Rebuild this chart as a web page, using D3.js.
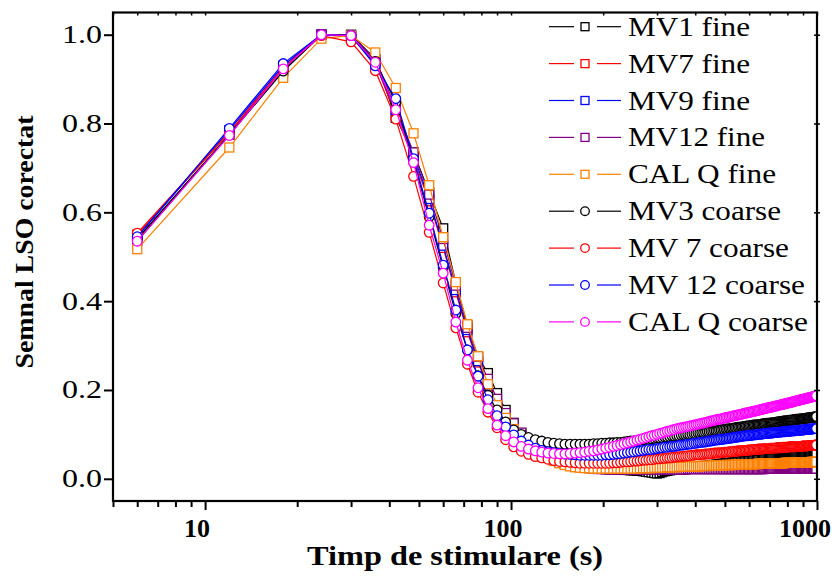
<!DOCTYPE html>
<html><head><meta charset="utf-8">
<script src="https://cdn.jsdelivr.net/npm/d3@7"></script>
<style>html,body{margin:0;padding:0;background:#fff;}svg{display:block;}
svg text{font-family:"Liberation Serif","Times New Roman",Times,serif;}</style>
</head><body>
<svg id="chart" width="832" height="578"></svg>
<script>
// ---------- DATA ----------
const times = [6,12,18,24,30,36,42,48,54,60,66,72,78,84,90,96,102,
108,114,120,126,132,138,144,150,156,162,
168,174,180,186,192,198,204,210,216,222,
228,234,240,246,252,258,264,270,276,282,
288,294,300,306,312,318,324,330,336,342,
348,354,360,366,372,378,384,390,396,402,
408,414,420,426,432,438,444,450,456,462,
468,474,480,486,492,498,504,510,516,522,
528,534,540,546,552,558,564,570,576,582,
588,594,600,606,612,618,624,630,636,642,
648,654,660,666,672,678,684,690,696,702,
708,714,720,726,732,738,744,750,756,762,
768,774,780,786,792,798,804,810,816,822,
828,834,840,846,852,858,864,870,876,882,
888,894,900,906,912,918,924,930,936,942,
948,954,960,966,972,978,984,990,996];

const mv1Fine = [.535,.775,.918,1.0,1.0,.945,.813,.735,.645,.564,.44,.345,.274,.238,.193,.155,.126,
.103,.087,.073,.062,.053,.046,.040,.035,.032,.029,
.027,.026,.025,.024,.024,.023,.023,.022,.022,.021,
.021,.020,.020,.019,.019,.018,.018,.017,.016,.015,
.014,.013,.012,.013,.015,.017,.018,.019,.020,.021,
.022,.022,.023,.023,.024,.024,.025,.025,.026,.026,
.027,.027,.028,.028,.029,.029,.030,.030,.031,.031,
.032,.032,.033,.033,.034,.034,.035,.035,.035,.036,
.036,.037,.037,.037,.038,.038,.038,.039,.039,.039,
.040,.040,.040,.041,.041,.041,.042,.042,.042,.043,
.043,.043,.043,.044,.044,.044,.045,.045,.045,.045,
.046,.046,.046,.046,.047,.047,.047,.047,.048,.048,
.048,.048,.049,.049,.049,.049,.050,.050,.050,.050,
.050,.051,.051,.051,.051,.051,.052,.052,.052,.052,
.052,.053,.053,.053,.053,.053,.053,.054,.054,.054,
.054,.054,.054,.055,.055,.055,.055,.055,.055];

const mv7Fine = [.550,.780,.925,1.0,.995,.935,.820,.720,.625,.520,.420,.330,.262,.208,.168,.138,.115,
.096,.080,.067,.057,.049,.042,.037,.033,.030,.028,
.027,.026,.025,.025,.024,.024,.024,.023,.023,.023,
.023,.023,.023,.023,.023,.023,.023,.023,.023,.023,
.023,.023,.023,.024,.024,.024,.024,.024,.024,.024,
.024,.024,.024,.024,.024,.025,.025,.025,.025,.025,
.025,.025,.025,.025,.025,.025,.025,.025,.025,.025,
.025,.025,.026,.026,.026,.026,.026,.026,.026,.026,
.026,.026,.026,.026,.026,.026,.026,.026,.026,.026,
.026,.026,.027,.027,.027,.027,.027,.027,.027,.027,
.027,.027,.027,.027,.027,.027,.027,.027,.027,.027,
.027,.027,.027,.027,.027,.028,.028,.028,.028,.028,
.028,.028,.028,.028,.028,.028,.028,.028,.028,.028,
.028,.028,.028,.028,.028,.028,.028,.028,.028,.028,
.028,.028,.028,.029,.029,.029,.029,.029,.029,.029,
.029,.029,.029,.029,.029,.029,.029,.029,.029];

const mv9Fine = [.545,.785,.930,1.0,.998,.935,.830,.728,.630,.525,.425,.335,.265,.210,.170,.140,.117,
.098,.082,.069,.058,.050,.043,.038,.034,.031,.029,
.028,.027,.026,.026,.025,.025,.025,.025,.025,.025,
.025,.025,.025,.025,.025,.025,.025,.025,.025,.025,
.025,.025,.025,.026,.026,.026,.026,.026,.026,.026,
.026,.026,.026,.026,.026,.026,.026,.027,.027,.027,
.027,.027,.027,.027,.027,.027,.027,.027,.027,.027,
.027,.027,.028,.028,.028,.028,.028,.028,.028,.028,
.028,.028,.028,.028,.028,.028,.028,.029,.029,.029,
.029,.029,.029,.029,.029,.029,.029,.029,.029,.029,
.029,.029,.029,.029,.029,.029,.029,.029,.030,.030,
.030,.030,.030,.030,.030,.030,.030,.030,.030,.030,
.030,.030,.030,.030,.030,.030,.030,.030,.030,.030,
.030,.030,.030,.030,.030,.031,.031,.031,.031,.031,
.031,.031,.031,.031,.031,.031,.031,.031,.031,.031,
.031,.031,.031,.031,.031,.031,.031,.031,.031];

const mv12Fine = [.540,.775,.925,1.0,.998,.945,.835,.735,.640,.540,.435,.340,.275,.225,.180,.148,.125,
.104,.087,.073,.062,.053,.046,.040,.035,.031,.028,
.026,.025,.024,.023,.022,.022,.021,.021,.021,.021,
.021,.021,.021,.021,.021,.021,.021,.021,.021,.021,
.021,.021,.021,.021,.021,.021,.021,.021,.021,.021,
.021,.021,.021,.021,.021,.022,.022,.022,.022,.022,
.022,.022,.022,.022,.022,.022,.022,.022,.022,.022,
.022,.022,.022,.022,.022,.022,.022,.022,.022,.022,
.022,.022,.022,.022,.022,.022,.022,.022,.022,.022,
.022,.022,.022,.022,.022,.022,.022,.022,.022,.022,
.022,.022,.022,.022,.022,.023,.023,.023,.023,.023,
.023,.023,.023,.023,.023,.023,.023,.023,.023,.023,
.023,.023,.023,.023,.023,.023,.023,.023,.023,.023,
.023,.023,.023,.023,.023,.023,.023,.023,.023,.023,
.023,.023,.023,.023,.023,.023,.023,.023,.023,.023,
.023,.023,.023,.023,.023,.023,.023,.023,.023];

const calqFine = [.517,.746,.903,.991,.998,.960,.880,.778,.661,.544,.443,.348,.276,.213,.166,.137,.112,
.094,.078,.065,.055,.047,.040,.035,.031,.028,.026,
.025,.024,.024,.023,.023,.023,.023,.023,.023,.023,
.023,.023,.023,.023,.023,.023,.024,.024,.024,.024,
.024,.025,.025,.025,.025,.025,.026,.026,.026,.026,
.026,.027,.027,.027,.027,.027,.028,.028,.028,.028,
.028,.028,.029,.029,.029,.029,.029,.029,.030,.030,
.030,.030,.030,.030,.030,.031,.031,.031,.031,.031,
.031,.031,.032,.032,.032,.032,.032,.032,.032,.032,
.033,.033,.033,.033,.033,.033,.033,.033,.033,.034,
.034,.034,.034,.034,.034,.034,.034,.034,.034,.034,
.035,.035,.035,.035,.035,.035,.035,.035,.035,.035,
.035,.035,.035,.036,.036,.036,.036,.036,.036,.036,
.036,.036,.036,.036,.036,.036,.036,.037,.037,.037,
.037,.037,.037,.037,.037,.037,.037,.037,.037,.037,
.037,.037,.038,.038,.038,.038,.038,.038,.038];

const mv3Coarse = [.540,.775,.918,1.0,.998,.940,.848,.715,.590,.475,.372,.290,.232,.188,.155,.128,.110,
.100,.093,.088,.085,.082,.080,.079,.078,.078,.078,
.078,.078,.078,.079,.079,.080,.080,.081,.081,.082,
.082,.083,.084,.085,.085,.086,.087,.088,.089,.089,
.090,.091,.092,.092,.093,.094,.094,.095,.096,.096,
.097,.097,.098,.099,.099,.100,.100,.101,.102,.102,
.103,.103,.104,.104,.105,.106,.106,.107,.107,.108,
.108,.109,.110,.110,.111,.111,.112,.112,.113,.113,
.114,.114,.115,.115,.116,.116,.117,.117,.118,.118,
.119,.119,.119,.120,.120,.121,.121,.121,.122,.122,
.122,.123,.123,.124,.124,.124,.125,.125,.125,.126,
.126,.126,.127,.127,.127,.128,.128,.128,.129,.129,
.129,.130,.130,.130,.131,.131,.131,.132,.132,.132,
.132,.133,.133,.133,.134,.134,.134,.134,.135,.135,
.135,.135,.136,.136,.136,.136,.137,.137,.137,.137,
.138,.138,.138,.138,.139,.139,.139,.139,.140];

const mv7Coarse = [.553,.780,.925,.998,.984,.919,.810,.681,.555,.441,.340,.258,.195,.150,.115,.088,.072,
.062,.055,.050,.047,.044,.041,.039,.038,.037,.036,
.035,.035,.035,.035,.035,.035,.035,.035,.036,.036,
.037,.038,.038,.039,.040,.040,.041,.042,.042,.043,
.043,.044,.045,.045,.046,.046,.047,.047,.048,.049,
.049,.050,.050,.051,.051,.052,.052,.053,.053,.054,
.054,.054,.055,.055,.056,.056,.056,.057,.057,.058,
.058,.058,.059,.059,.059,.060,.060,.060,.061,.061,
.061,.062,.062,.062,.063,.063,.063,.063,.064,.064,
.064,.065,.065,.065,.065,.066,.066,.066,.066,.067,
.067,.067,.067,.067,.068,.068,.068,.068,.068,.069,
.069,.069,.069,.069,.069,.070,.070,.070,.070,.070,
.070,.071,.071,.071,.071,.071,.071,.072,.072,.072,
.072,.072,.072,.072,.073,.073,.073,.073,.073,.073,
.073,.074,.074,.074,.074,.074,.074,.074,.075,.075,
.075,.075,.075,.075,.075,.075,.076,.076,.076];

const mv12Coarse = [.545,.789,.935,1.0,.998,.930,.856,.721,.598,.481,.380,.290,.231,.178,.142,.117,.099,
.085,.076,.069,.064,.061,.059,.057,.056,.055,.054,
.053,.053,.053,.053,.053,.053,.054,.054,.055,.056,
.057,.058,.059,.060,.061,.062,.063,.064,.065,.066,
.066,.067,.068,.069,.070,.071,.071,.072,.073,.073,
.074,.075,.076,.076,.077,.078,.078,.079,.080,.080,
.081,.082,.082,.083,.083,.084,.085,.085,.086,.087,
.087,.088,.088,.089,.089,.090,.090,.091,.091,.092,
.092,.093,.093,.094,.094,.095,.095,.096,.096,.097,
.097,.097,.098,.098,.098,.099,.099,.099,.100,.100,
.100,.101,.101,.101,.102,.102,.102,.102,.103,.103,
.103,.103,.104,.104,.104,.104,.105,.105,.105,.105,
.106,.106,.106,.106,.107,.107,.107,.107,.107,.108,
.108,.108,.108,.108,.109,.109,.109,.109,.109,.110,
.110,.110,.110,.110,.111,.111,.111,.111,.111,.112,
.112,.112,.112,.112,.113,.113,.113,.113,.113];

const calqCoarse = [.535,.773,.923,1.0,.998,.938,.831,.712,.571,.463,.353,.267,.205,.158,.121,.097,.083,
.073,.067,.063,.060,.058,.057,.056,.056,.057,.058,
.059,.060,.062,.063,.065,.067,.069,.071,.073,.075,
.077,.079,.081,.083,.085,.087,.089,.091,.093,.095,
.097,.098,.100,.102,.103,.105,.107,.108,.110,.111,
.113,.114,.115,.116,.117,.118,.119,.120,.121,.122,
.123,.124,.125,.126,.127,.128,.129,.130,.131,.132,
.133,.134,.134,.135,.136,.137,.138,.138,.139,.140,
.141,.142,.142,.143,.144,.145,.145,.146,.147,.148,
.148,.149,.150,.150,.151,.152,.152,.153,.154,.154,
.155,.156,.156,.157,.158,.158,.159,.160,.160,.161,
.161,.162,.163,.163,.164,.164,.165,.166,.166,.167,
.167,.168,.168,.169,.170,.170,.171,.171,.172,.172,
.173,.173,.174,.175,.175,.176,.176,.177,.177,.178,
.178,.179,.179,.180,.180,.181,.181,.182,.182,.183,
.183,.184,.184,.185,.185,.186,.186,.187,.187];

const seriesNames = ["MV1 fine","MV7 fine","MV9 fine","MV12 fine","CAL Q fine","MV3 coarse","MV 7 coarse","MV 12 coarse","CAL Q coarse"];
const seriesValues = [mv1Fine, mv7Fine, mv9Fine, mv12Fine, calqFine, mv3Coarse, mv7Coarse, mv12Coarse, calqCoarse];
const seriesColors = ["#000000","#ff0000","#0000ff","#800080","#ff8000","#000000","#ff0000","#0000ff","#ff00ff"];
const seriesShapes = ["square","square","square","square","square","circle","circle","circle","circle"];

const xMajorTicks = [10, 100, 1000];
const xMinorTicks = [5,6,7,8,9,20,30,40,50,60,70,80,90,200,300,400,500,600,700,800,900];
const yTicks = [0.0, 0.2, 0.4, 0.6, 0.8, 1.0];
const xTitle = "Timp de stimulare (s)";
const yTitle = "Semnal LSO corectat";

// ---------- LAYOUT ----------
const L = 113, R = 817, T = 12.5, B = 501;
const svg = d3.select("#chart");
const x = d3.scaleLog().domain([5, 1000]).range([L, R]);
const y = d3.scaleLinear().domain([-0.05, 1.05]).range([B, T]);

// text with a fixed drawn width (the reference's type is slightly stretched)
function wText(g, px, py, str, size, weight, anchor, width) {
  return g.append("text")
    .attr("x", px).attr("y", py)
    .attr("text-anchor", anchor)
    .attr("font-size", size)
    .attr("font-weight", weight)
    .attr("textLength", width)
    .attr("lengthAdjust", "spacingAndGlyphs")
    .attr("fill", "#000")
    .text(str);
}

svg.append("defs").append("clipPath").attr("id", "plotclip")
  .append("rect").attr("x", L).attr("y", T).attr("width", R - L).attr("height", B - T);

// ---------- SERIES ----------
const plot = svg.append("g").attr("clip-path", "url(#plotclip)");
const line = d3.line().x(d => x(d[0])).y(d => y(d[1]));
seriesValues.forEach((vals, i) => {
  const pts = times.slice(0, vals.length).map((t, j) => [t, vals[j]]);
  const g = plot.append("g");
  g.append("path").datum(pts).attr("d", line)
    .attr("fill", "none").attr("stroke", seriesColors[i]).attr("stroke-width", 1.2);
  if (seriesShapes[i] === "square") {
    g.selectAll("rect").data(pts).join("rect")
      .attr("x", d => x(d[0]) - 4.5).attr("y", d => y(d[1]) - 4.5)
      .attr("width", 9).attr("height", 9)
      .attr("fill", "#fff").attr("stroke", seriesColors[i]).attr("stroke-width", 1.3);
  } else {
    g.selectAll("circle").data(pts).join("circle")
      .attr("cx", d => x(d[0])).attr("cy", d => y(d[1])).attr("r", 4.8)
      .attr("fill", "#fff").attr("stroke", seriesColors[i]).attr("stroke-width", 1.3);
  }
});

// ---------- AXES ----------
const axisG = svg.append("g");
axisG.append("g").attr("transform", `translate(0,${B})`)
  .call(d3.axisBottom(x).tickValues(xMajorTicks).tickSize(9).tickFormat(""))
  .call(g => g.select(".domain").remove()).selectAll("line").attr("stroke-width", 2);
axisG.append("g").attr("transform", `translate(0,${B})`)
  .call(d3.axisBottom(x).tickValues(xMinorTicks).tickSize(6).tickFormat(""))
  .call(g => g.select(".domain").remove()).selectAll("line").attr("stroke-width", 2);
axisG.append("g").attr("transform", `translate(0,${T})`)
  .call(d3.axisBottom(x).tickValues(xMajorTicks.concat(xMinorTicks)).tickSize(3).tickFormat(""))
  .call(g => g.select(".domain").remove()).selectAll("line").attr("stroke-width", 1.5);
axisG.append("g").attr("transform", `translate(${L},0)`)
  .call(d3.axisLeft(y).tickValues(yTicks).tickSize(9).tickFormat(""))
  .call(g => g.select(".domain").remove()).selectAll("line").attr("stroke-width", 2);
axisG.append("g").attr("transform", `translate(${R + 3},0)`)
  .call(d3.axisLeft(y).tickValues(yTicks).tickSize(6).tickFormat(""))
  .call(g => g.select(".domain").remove()).selectAll("line").attr("stroke-width", 1.5);
axisG.append("rect").attr("x", L).attr("y", T).attr("width", R - L).attr("height", B - T)
  .attr("fill", "none").attr("stroke", "#000").attr("stroke-width", 2.2);

// tick labels
const xLabelWidth = {10: 26, 100: 39, 1000: 52};
xMajorTicks.forEach(v => {
  const cx = Math.min(x(v) - 8, 831 - xLabelWidth[v] / 2);
  wText(axisG, cx, 537, d3.format("d")(v), 25, "bold", "middle", xLabelWidth[v]);
});
yTicks.forEach(v => wText(axisG, 102, y(v) + 8.5, d3.format(".1f")(v), 25, "normal", "end", 40));

// titles
wText(svg, 455, 565, xTitle, 28, "bold", "middle", 296);
svg.append("text")
  .attr("transform", `translate(33,242) rotate(-90)`)
  .attr("text-anchor", "middle")
  .attr("font-size", 26).attr("font-weight", "bold")
  .attr("textLength", 253).attr("lengthAdjust", "spacingAndGlyphs")
  .text(yTitle);

// ---------- LEGEND ----------
const legendWidths = [122, 122, 122, 137, 148, 153, 161, 177, 180];
const leg = svg.append("g");
seriesNames.forEach((name, i) => {
  const cy = 26.7 + i * 36.9;
  const c = seriesColors[i];
  leg.append("line").attr("x1", 549).attr("x2", 574).attr("y1", cy).attr("y2", cy).attr("stroke", c).attr("stroke-width", 1.2);
  leg.append("line").attr("x1", 597).attr("x2", 621).attr("y1", cy).attr("y2", cy).attr("stroke", c).attr("stroke-width", 1.2);
  if (seriesShapes[i] === "square") {
    leg.append("rect").attr("x", 585 - 4).attr("y", cy - 4).attr("width", 8).attr("height", 8)
      .attr("fill", "#fff").attr("stroke", c).attr("stroke-width", 1.3);
  } else {
    leg.append("circle").attr("cx", 585).attr("cy", cy).attr("r", 4.3)
      .attr("fill", "#fff").attr("stroke", c).attr("stroke-width", 1.3);
  }
  wText(leg, 628, cy + 9, name, 26.5, "normal", "start", legendWidths[i]);
});
</script>
</body></html>
